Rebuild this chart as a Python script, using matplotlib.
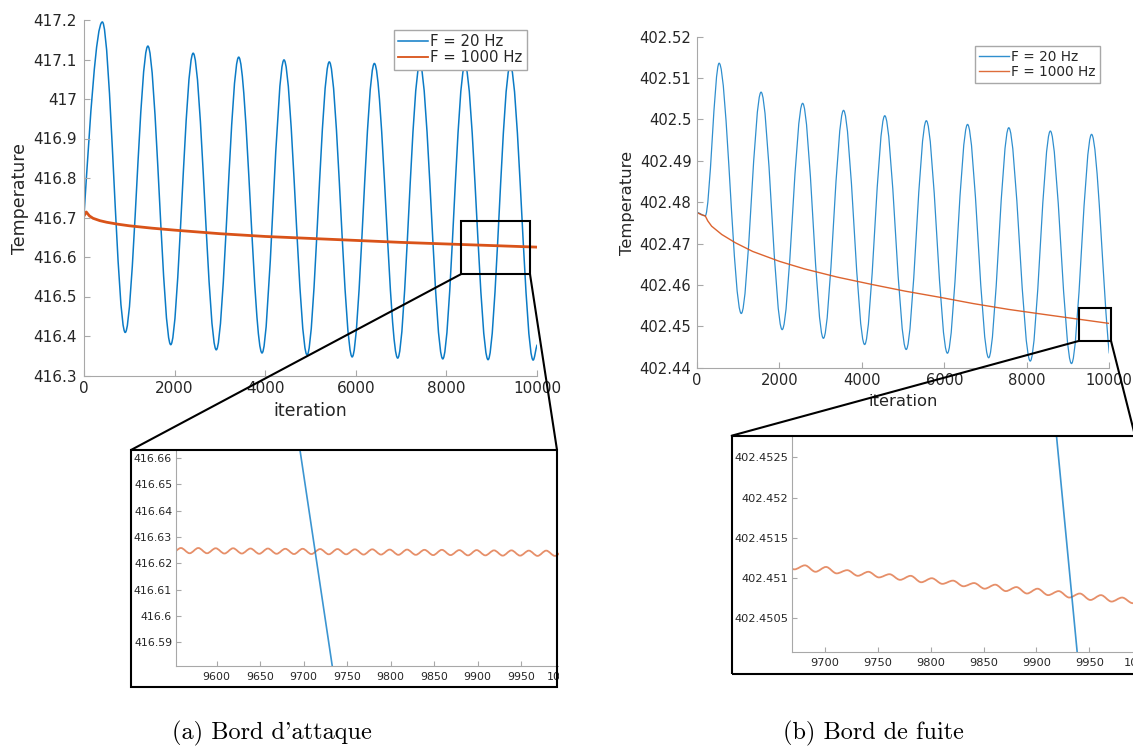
import matplotlib
matplotlib.use('Agg')
import matplotlib.pyplot as plt
from matplotlib.path import Path
from matplotlib.patches import PathPatch, Rectangle, ConnectionPatch
from matplotlib.lines import Line2D
from matplotlib.ticker import MultipleLocator, FuncFormatter

# ---- data ----
# (a) leading edge, F = 20 Hz : start, then peaks / troughs, end
lead_20_x = [0, 405, 910, 1410, 1915, 2410, 2920, 3415, 3930, 4415, 4925,
             5415, 5920, 6410, 6925, 7415, 7920, 8410, 8920, 9410, 9915, 10000]
lead_20_y = [416.705, 417.195, 416.409, 417.134, 416.378, 417.116, 416.365,
             417.106, 416.357, 417.099, 416.352, 417.094, 416.347, 417.090,
             416.344, 417.088, 416.342, 417.086, 416.340, 417.085, 416.339,
             416.377]
# (a) leading edge, F = 1000 Hz (mean curve)
lead_1000_x = [0, 50, 120, 200, 350, 500, 750, 1000, 1500, 2000, 3000, 4000,
               5000, 6000, 7000, 8000, 9000, 10000]
lead_1000_y = [416.704, 416.714, 416.704, 416.698, 416.692, 416.688, 416.683,
               416.679, 416.673, 416.668, 416.659, 416.652, 416.647, 416.642,
               416.637, 416.633, 416.629, 416.625]

# (b) trailing edge, F = 20 Hz
trail_20_x = [0, 200, 537, 1074, 1554, 2066, 2562, 3066, 3554, 4066, 4554,
              5074, 5562, 6074, 6562, 7074, 7562, 8083, 8570, 9083, 9570, 10000]
trail_20_y = [402.4775, 402.4767, 402.5136, 402.4531, 402.5066, 402.4492,
              402.5039, 402.4471, 402.5022, 402.4456, 402.5009, 402.4444,
              402.4997, 402.4435, 402.4988, 402.4424, 402.4980, 402.4416,
              402.4972, 402.4410, 402.4964, 402.4435]
# (b) trailing edge, F = 1000 Hz (mean curve)
trail_1000_x = [0, 100, 200, 260, 355, 600, 930, 1350, 2000, 2600, 3400,
                4250, 5050, 5900, 6700, 7550, 8400, 9200, 10000]
trail_1000_y = [402.4775, 402.4770, 402.4767, 402.4755, 402.4742, 402.4722,
                402.4702, 402.4681, 402.4657, 402.4639, 402.4619, 402.4601,
                402.4585, 402.4570, 402.4555, 402.4541, 402.4529, 402.4518,
                402.4507]

# zoom (a): troughs / peaks of the 1000 Hz ripple, and the 20 Hz slope
zoom_a_1000_x = [9549, 9559, 9569, 9579, 9589, 9599, 9609, 9619, 9629, 9639,
                 9649, 9659, 9669, 9679, 9689, 9699, 9709, 9719, 9729, 9739,
                 9749, 9759, 9769, 9779, 9789, 9799, 9809, 9819, 9829, 9839,
                 9849, 9859, 9869, 9879, 9889, 9899, 9909, 9919, 9929, 9939,
                 9949, 9959, 9969, 9979, 9989, 9999]
zoom_a_1000_y = [416.6239, 416.6258, 416.6238, 416.6258, 416.6238, 416.6257,
                 416.6237, 416.6257, 416.6237, 416.6256, 416.6236, 416.6256,
                 416.6236, 416.6255, 416.6235, 416.6255, 416.6235, 416.6254,
                 416.6234, 416.6254, 416.6234, 416.6253, 416.6233, 416.6253,
                 416.6233, 416.6252, 416.6232, 416.6252, 416.6232, 416.6251,
                 416.6231, 416.6251, 416.6231, 416.6250, 416.6230, 416.6250,
                 416.6230, 416.6249, 416.6229, 416.6249, 416.6229, 416.6248,
                 416.6228, 416.6248, 416.6228, 416.6247]
zoom_a_20_x = [9690, 9740]
zoom_a_20_y = [416.676, 416.5655]

# zoom (b)
zoom_b_1000_x = [9661, 9671, 9681, 9691, 9701, 9711, 9721, 9731, 9741, 9751,
                 9761, 9771, 9781, 9791, 9801, 9811, 9821, 9831, 9841, 9851,
                 9861, 9871, 9881, 9891, 9901, 9911, 9921, 9931, 9941, 9951,
                 9961, 9971, 9981, 9991, 10001]
zoom_b_1000_y = [402.45118, 402.45111, 402.45116, 402.45108, 402.45114,
                 402.45106, 402.45110, 402.45103, 402.45108, 402.45101,
                 402.45105, 402.45098, 402.45103, 402.45095, 402.45100,
                 402.45093, 402.45097, 402.45090, 402.45094, 402.45087,
                 402.45092, 402.45084, 402.45089, 402.45081, 402.45087,
                 402.45079, 402.45084, 402.45076, 402.45081, 402.45073,
                 402.45079, 402.45071, 402.45076, 402.45069, 402.45073]
zoom_b_20_x = [9912, 9945]
zoom_b_20_y = [402.45372, 402.44919]

labels = ['F = 20 Hz', 'F = 1000 Hz']
captions = ["(a) Bord d'attaque", "(b) Bord de fuite"]

BLUE = '#0B7BC6'
ORANGE = '#D95319'
AXC = '#A8A8A8'
TXT = '#262626'

W, H = 1133, 749
fig = plt.figure(figsize=(W / 100, H / 100), dpi=100)


def frac(l, t, r, b):
    # pixel box -> figure fraction
    return [l / W, 1 - b / H, (r - l) / W, (b - t) / H]


def smooth(ax, xs, ys, color, lw, alpha=1.0, free_start=False, free_end=False):
    # smooth curve through extrema (horizontal tangents), drawn as bezier path
    verts = [(xs[0], ys[0])]
    codes = [Path.MOVETO]
    n = len(xs) - 1
    for i in range(n):
        x0, y0, x1, y1 = xs[i], ys[i], xs[i + 1], ys[i + 1]
        d = (x1 - x0) / 3
        c0 = y0 + 0.5 * (y1 - y0) if (free_start and i == 0) else y0
        c1 = y1 - 0.25 * (y1 - y0) if (free_end and i == n - 1) else y1
        verts += [(x0 + d, c0), (x1 - d, c1), (x1, y1)]
        codes += [Path.CURVE4] * 3
    ax.add_patch(PathPatch(Path(verts, codes), fill=False, ec=color, lw=lw,
                           alpha=alpha, joinstyle='round', capstyle='round'))


fmt = FuncFormatter(lambda v, p: '%.10g' % round(v, 7))


def style(ax, fs, padx, pady, tl):
    for s in ['top', 'right']:
        ax.spines[s].set_visible(False)
    for s in ['left', 'bottom']:
        ax.spines[s].set_color(AXC)
        ax.spines[s].set_linewidth(0.8)
    ax.tick_params(direction='in', length=tl, width=0.8, color=AXC,
                   labelsize=fs, labelcolor=TXT)
    ax.tick_params(axis='x', pad=padx)
    ax.tick_params(axis='y', pad=pady)
    ax.xaxis.set_major_formatter(fmt)
    ax.yaxis.set_major_formatter(fmt)


# ---- (a) main ----
axL = fig.add_axes(frac(84, 20, 537, 375.5))
smooth(axL, lead_20_x, lead_20_y, BLUE, 1.1, free_start=True, free_end=True)
axL.plot(lead_1000_x, lead_1000_y, color=ORANGE, lw=2.0)
axL.set_xlim(0, 10000)
axL.set_ylim(416.3, 417.2)
axL.xaxis.set_major_locator(MultipleLocator(2000))
axL.yaxis.set_major_locator(MultipleLocator(0.1))
style(axL, 11, 4, 5, 4)
hL = [Line2D([], [], color=BLUE, lw=1.1), Line2D([], [], color=ORANGE, lw=1.3)]
lg = axL.legend(hL, labels, loc='upper right', bbox_to_anchor=(526.7 / W, 1 - 30 / H),
                bbox_transform=fig.transFigure, borderaxespad=0, fontsize=10.7,
                handlelength=2.0, handletextpad=0.15, labelspacing=0.05,
                borderpad=0.3, fancybox=False, framealpha=1, edgecolor=AXC)
for t in lg.get_texts():
    t.set_color(TXT)
fig.text(20 / W, 1 - 198 / H, 'Temperature', rotation=90, ha='center',
         va='center', fontsize=12.5, color=TXT)
fig.text(310 / W, 1 - 411 / H, 'iteration', ha='center', va='center',
         fontsize=12.5, color=TXT)
axL.add_patch(Rectangle((8329, 416.557), 9845 - 8329, 416.692 - 416.557,
                        fill=False, ec='k', lw=1.5, zorder=5, clip_on=False))

# ---- (b) main ----
axR = fig.add_axes(frac(697, 36.7, 1109.3, 367.7))
smooth(axR, trail_20_x, trail_20_y, BLUE, 0.9, alpha=0.85, free_end=True)
axR.plot(trail_1000_x, trail_1000_y, color=ORANGE, lw=1.0, alpha=0.9)
axR.set_xlim(0, 10000)
axR.set_ylim(402.44, 402.52)
axR.xaxis.set_major_locator(MultipleLocator(2000))
axR.yaxis.set_major_locator(MultipleLocator(0.01))
style(axR, 10.6, 4, 4, 4)
hR = [Line2D([], [], color=BLUE, lw=1.0, alpha=0.85),
      Line2D([], [], color=ORANGE, lw=1.0, alpha=0.85)]
lg = axR.legend(hR, labels, loc='upper right', bbox_to_anchor=(1100 / W, 1 - 46 / H),
                bbox_transform=fig.transFigure, borderaxespad=0, fontsize=9.8,
                handlelength=2.2, handletextpad=0.15, labelspacing=0.05,
                borderpad=0.3, fancybox=False, framealpha=1, edgecolor=AXC)
for t in lg.get_texts():
    t.set_color(TXT)
fig.text(627.5 / W, 1 - 202.5 / H, 'Temperature', rotation=90, ha='center',
         va='center', fontsize=11.8, color=TXT)
fig.text(903 / W, 1 - 401.5 / H, 'iteration', ha='center', va='center',
         fontsize=11.8, color=TXT)
axR.add_patch(Rectangle((9272, 402.4465), 10041 - 9272, 402.4544 - 402.4465,
                        fill=False, ec='k', lw=1.5, zorder=5, clip_on=False))

# ---- (a) zoom ----
axLi = fig.add_axes(frac(175.7, 450, 564.5, 666))
axLi.plot(zoom_a_20_x, zoom_a_20_y, color=BLUE, lw=1.2, alpha=0.8)
smooth(axLi, zoom_a_1000_x, zoom_a_1000_y, ORANGE, 1.3, alpha=0.65)
axLi.set_xlim(9553, 10000)
axLi.set_ylim(416.581, 416.663)
axLi.xaxis.set_major_locator(MultipleLocator(50))
axLi.yaxis.set_major_locator(MultipleLocator(0.01))
style(axLi, 7.9, 4, 2.5, 3.5)

# ---- (b) zoom ----
axRi = fig.add_axes(frac(791.7, 435.7, 1142.2, 652.3))
axRi.plot(zoom_b_20_x, zoom_b_20_y, color=BLUE, lw=1.2, alpha=0.8)
smooth(axRi, zoom_b_1000_x, zoom_b_1000_y, ORANGE, 1.3, alpha=0.65)
axRi.set_xlim(9668.5, 10000)
axRi.set_ylim(402.45008, 402.45277)
axRi.xaxis.set_major_locator(MultipleLocator(50))
axRi.yaxis.set_major_locator(MultipleLocator(0.0005))
style(axRi, 8.2, 4, 2.5, 3.5)

# hide the part of zoom (a) outside its frame
fig.add_artist(Rectangle((558.5 / W, 1 - 705 / H), 80 / W, 265 / H,
                         transform=fig.transFigure, fc='white', ec='none', zorder=8))

# frames around the zooms
fig.add_artist(Rectangle((131 / W, 1 - 687 / H), (557 - 131) / W, (687 - 450) / H,
                         transform=fig.transFigure, fill=False, ec='k', lw=1.5, zorder=10))
fig.add_artist(Rectangle((731.7 / W, 1 - 674 / H), (1135 - 731.7) / W, (674 - 435.7) / H,
                         transform=fig.transFigure, fill=False, ec='k', lw=1.5, zorder=10))

# connector lines
for xy, ax, xyf in [((8329, 416.557), axL, (131, 450)),
                    ((9845, 416.557), axL, (557, 450)),
                    ((9272, 402.4465), axR, (731.7, 435.7)),
                    ((10041, 402.4465), axR, (1135, 435.7))]:
    con = ConnectionPatch(xyA=xy, coordsA=ax.transData,
                          xyB=(xyf[0] / W, 1 - xyf[1] / H), coordsB=fig.transFigure,
                          color='k', lw=1.5, zorder=10)
    fig.add_artist(con)

# captions
fig.text(272 / W, 1 - 733 / H, captions[0], ha='center', va='center',
         fontsize=17.5, family=['cmr10', 'DejaVu Serif'], color='black')
fig.text(873 / W, 1 - 733 / H, captions[1], ha='center', va='center',
         fontsize=17.5, family=['cmr10', 'DejaVu Serif'], color='black')

fig.savefig('out.png', dpi=100)
